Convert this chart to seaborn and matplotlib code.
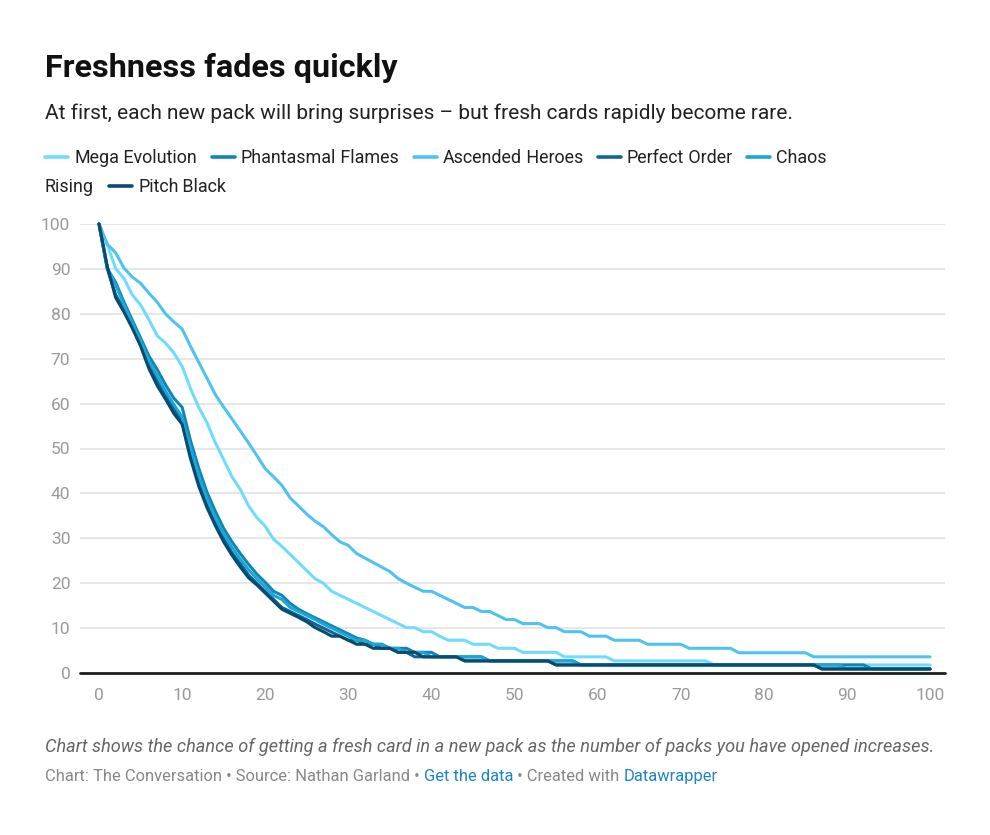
import pandas as pd
import seaborn as sns
import matplotlib.pyplot as plt
from matplotlib.lines import Line2D

# chance (%) of a fresh card in the next pack, by packs opened
packs = list(range(101))

mega_evolution = [100, 95.3, 90.1, 87.9, 84.2, 82.0, 78.7, 75.1, 73.5, 71.3, 68.3,
                  63.4, 59.2, 55.7, 51.3, 47.5, 43.7, 40.9, 37.2, 34.6, 32.7,
                  29.8, 28.2, 26.4, 24.6, 22.8, 21.0, 20.0, 18.2, 17.3, 16.4,
                  15.5, 14.6, 13.7, 12.8, 11.9, 11.0, 10.1, 10.1, 9.2, 9.2,
                  8.2, 7.3, 7.3, 7.3, 6.4, 6.4, 6.4, 5.5, 5.5, 5.5,
                  4.6, 4.6, 4.6, 4.6, 4.6, 3.6, 3.6, 3.6, 3.6, 3.6,
                  3.6, 2.7, 2.7, 2.7, 2.7, 2.7, 2.7, 2.7, 2.7, 2.7,
                  2.7, 2.7, 2.7, 1.8, 1.8, 1.8, 1.8, 1.8, 1.8, 1.8,
                  1.8, 1.8, 1.8, 1.8, 1.8, 1.8, 1.8, 1.8, 1.8, 1.8,
                  1.8, 1.8, 1.8, 1.8, 1.8, 1.8, 1.8, 1.8, 1.8, 1.8]

phantasmal_flames = [100, 90.0, 87.0, 82.6, 78.6, 74.6, 70.6, 67.6, 64.2, 61.2, 59.2,
                     51.8, 45.6, 40.2, 36.0, 32.2, 29.2, 26.6, 24.2, 22.0, 20.2,
                     18.2, 17.3, 15.5, 14.2, 13.2, 12.3, 11.4, 10.5, 9.6, 8.7,
                     7.8, 7.3, 6.4, 6.4, 5.5, 5.5, 5.5, 4.6, 4.6, 4.6,
                     3.6, 3.6, 3.6, 3.6, 3.6, 3.6, 2.7, 2.7, 2.7, 2.7,
                     2.7, 2.7, 2.7, 2.7, 2.7, 2.7, 2.7, 1.8, 1.8, 1.8,
                     1.8, 1.8, 1.8, 1.8, 1.8, 1.8, 1.8, 1.8, 1.8, 1.8,
                     1.8, 1.8, 1.8, 1.8, 1.8, 1.8, 1.8, 1.8, 1.8, 1.8,
                     1.8, 1.8, 1.8, 1.8, 1.8, 1.8, 1.8, 1.8, 1.8, 1.8,
                     1.8, 1.8, 0.9, 0.9, 0.9, 0.9, 0.9, 0.9, 0.9, 0.9]

ascended_heroes = [100, 95.5, 93.6, 90.2, 88.2, 86.8, 84.6, 82.6, 80.0, 78.2, 76.6,
                   72.8, 69.2, 65.6, 62.0, 59.2, 56.6, 53.9, 51.2, 48.4, 45.5,
                   43.7, 41.8, 39.0, 37.2, 35.4, 33.8, 32.6, 30.8, 29.2, 28.4,
                   26.6, 25.6, 24.6, 23.6, 22.6, 21.0, 20.0, 19.1, 18.2, 18.2,
                   17.3, 16.4, 15.5, 14.6, 14.6, 13.7, 13.7, 12.8, 11.9, 11.9,
                   11.0, 11.0, 11.0, 10.1, 10.1, 9.2, 9.2, 9.2, 8.2, 8.2,
                   8.2, 7.3, 7.3, 7.3, 7.3, 6.4, 6.4, 6.4, 6.4, 6.4,
                   5.5, 5.5, 5.5, 5.5, 5.5, 5.5, 4.5, 4.5, 4.5, 4.5,
                   4.5, 4.5, 4.5, 4.5, 4.5, 3.6, 3.6, 3.6, 3.6, 3.6,
                   3.6, 3.6, 3.6, 3.6, 3.6, 3.6, 3.6, 3.6, 3.6, 3.6]

perfect_order = [100, 90.0, 84.2, 81.0, 77.4, 73.4, 68.8, 65.0, 62.0, 58.8, 56.0,
                 48.8, 42.6, 37.6, 33.6, 30.0, 26.8, 24.4, 21.8, 20.0, 18.2,
                 16.4, 14.6, 13.7, 12.8, 11.9, 10.9, 10.0, 9.1, 8.2, 7.3,
                 7.3, 6.4, 6.4, 5.5, 5.5, 4.6, 4.6, 3.6, 3.6, 3.6,
                 3.6, 3.6, 3.6, 2.7, 2.7, 2.7, 2.7, 2.7, 2.7, 2.7,
                 2.7, 2.7, 2.7, 2.7, 1.8, 1.8, 1.8, 1.8, 1.8, 1.8,
                 1.8, 1.8, 1.8, 1.8, 1.8, 1.8, 1.8, 1.8, 1.8, 1.8,
                 1.8, 1.8, 1.8, 1.8, 1.8, 1.8, 1.8, 1.8, 1.8, 1.8,
                 1.8, 1.8, 1.8, 1.8, 1.8, 1.8, 0.9, 0.9, 0.9, 0.9,
                 0.9, 0.9, 0.9, 0.9, 0.9, 0.9, 0.9, 0.9, 0.9, 0.9]

chaos_rising = [100, 90.2, 86.4, 82.0, 78.0, 74.0, 69.6, 66.2, 62.8, 59.8, 57.0,
                50.2, 44.0, 38.8, 34.6, 31.0, 28.0, 25.4, 23.0, 21.0, 19.2,
                17.3, 16.4, 14.6, 13.7, 12.8, 11.9, 10.9, 10.0, 9.1, 8.2,
                7.3, 7.3, 6.4, 6.4, 5.5, 5.5, 4.6, 4.6, 4.6, 3.6,
                3.6, 3.6, 3.6, 3.6, 3.6, 3.6, 2.7, 2.7, 2.7, 2.7,
                2.7, 2.7, 2.7, 2.7, 2.7, 2.7, 2.7, 1.8, 1.8, 1.8,
                1.8, 1.8, 1.8, 1.8, 1.8, 1.8, 1.8, 1.8, 1.8, 1.8,
                1.8, 1.8, 1.8, 1.8, 1.8, 1.8, 1.8, 1.8, 1.8, 1.8,
                1.8, 1.8, 1.8, 1.8, 1.8, 1.8, 1.8, 1.8, 1.8, 0.9,
                0.9, 0.9, 0.9, 0.9, 0.9, 0.9, 0.9, 0.9, 0.9, 0.9]

pitch_black = [100, 90.5, 83.6, 80.4, 76.8, 72.8, 67.8, 64.0, 61.0, 57.8, 55.4,
               47.8, 41.6, 36.8, 32.8, 29.2, 26.2, 23.6, 21.2, 19.6, 17.8,
               16.0, 14.2, 13.3, 12.4, 11.4, 10.1, 9.2, 8.2, 8.2, 7.3,
               6.4, 6.4, 5.5, 5.5, 5.5, 4.6, 4.6, 4.6, 3.6, 3.6,
               3.6, 3.6, 3.6, 2.7, 2.7, 2.7, 2.7, 2.7, 2.7, 2.7,
               2.7, 2.7, 2.7, 2.7, 1.8, 1.8, 1.8, 1.8, 1.8, 1.8,
               1.8, 1.8, 1.8, 1.8, 1.8, 1.8, 1.8, 1.8, 1.8, 1.8,
               1.8, 1.8, 1.8, 1.8, 1.8, 1.8, 1.8, 1.8, 1.8, 1.8,
               1.8, 1.8, 1.8, 1.8, 1.8, 1.8, 0.9, 0.9, 0.9, 0.9,
               0.9, 0.9, 0.9, 0.9, 0.9, 0.9, 0.9, 0.9, 0.9, 0.9]

names = ["Mega Evolution", "Phantasmal Flames", "Ascended Heroes",
         "Perfect Order", "Chaos Rising", "Pitch Black"]
colors = ["#6fdcff", "#0f86b6", "#4fc3f0", "#0c6894", "#1ca6d8", "#0a4a6e"]
series = [mega_evolution, phantasmal_flames, ascended_heroes,
          perfect_order, chaos_rising, pitch_black]

df = pd.concat([pd.DataFrame({"pack": packs, "value": s, "series": n})
                for n, s in zip(names, series)], ignore_index=True)

sns.set_theme(style="white")
plt.rcParams['font.family'] = ['Roboto', 'DejaVu Sans']

W, H = 990, 835
fig = plt.figure(figsize=(W / 100, H / 100), dpi=100)
fig.patch.set_facecolor("white")

def fx(px):
    return px / W

def fy(py):
    return 1 - py / H

ax = fig.add_axes([fx(80), fy(673), fx(865), 449 / H])
sns.lineplot(data=df, x="pack", y="value", hue="series", hue_order=names,
             palette=dict(zip(names, colors)), linewidth=2.2, ax=ax, legend=False)
for line in ax.lines:
    line.set_clip_on(False)
    line.set_solid_joinstyle("round")

ax.set_xlim(-2.29, 101.8)
ax.set_ylim(0, 100)
ax.set_xticks(range(0, 101, 10))
ax.set_yticks(range(0, 101, 10))
for v in range(10, 101, 10):
    ax.axhline(v, color="#e3e3e3", lw=1.2, zorder=0)
ax.axhline(0, color="#1d1d1d", lw=2, zorder=10, clip_on=False)
for s in ax.spines.values():
    s.set_visible(False)
ax.tick_params(length=0, labelsize=12.5, colors="#9a9a9a")
ax.tick_params(axis="y", pad=7)
ax.tick_params(axis="x", pad=11)
ax.set_xlabel("")
ax.set_ylabel("")

# header
fig.text(fx(45), fy(77), "Freshness fades quickly", fontsize=23.3, fontweight="bold",
         color="#111111", va="baseline")
fig.text(fx(45), fy(119), "At first, each new pack will bring surprises \u2013 but fresh cards rapidly become rare.",
         fontsize=15, color="#222222", va="baseline")

# legend, laid out like a wrapping text row
fig.canvas.draw()
r = fig.canvas.get_renderer()
lx, ly = 45, 163
row_h = 29
right = 860
for n, c in zip(names, colors):
    if lx + 23 > right:
        lx, ly = 45, ly + row_h
    fig.add_artist(Line2D([fx(lx), fx(lx + 23)], [fy(ly - 6)] * 2, color=c, lw=2.6,
                          transform=fig.transFigure))
    lx += 29
    for i, w in enumerate(n.split()):
        piece = w if i == 0 else " " + w
        t = fig.text(fx(lx), fy(ly), piece, fontsize=12.9, color="#222222", va="baseline")
        tw = t.get_window_extent(r).width
        if lx + tw > right:
            lx, ly = 45, ly + row_h
            t.set_text(w)
            t.set_position((fx(lx), fy(ly)))
            tw = t.get_window_extent(r).width
        lx += tw
    lx += 15

# footer
fig.text(fx(45), fy(752), "Chart shows the chance of getting a fresh card in a new pack as the number of packs you have opened increases.",
         fontsize=13.1, style="italic", color="#666666", va="baseline")
fx0 = 45
for piece, col in [("Chart: The Conversation \u2022 Source: Nathan Garland \u2022 ", "#888888"),
                   ("Get the data", "#1a86c8"),
                   (" \u2022 Created with ", "#888888"),
                   ("Datawrapper", "#1a86c8")]:
    t = fig.text(fx(fx0), fy(781), piece, fontsize=11.9, color=col, va="baseline")
    fx0 += t.get_window_extent(r).width

fig.savefig("out.png", dpi=100, facecolor="white")
